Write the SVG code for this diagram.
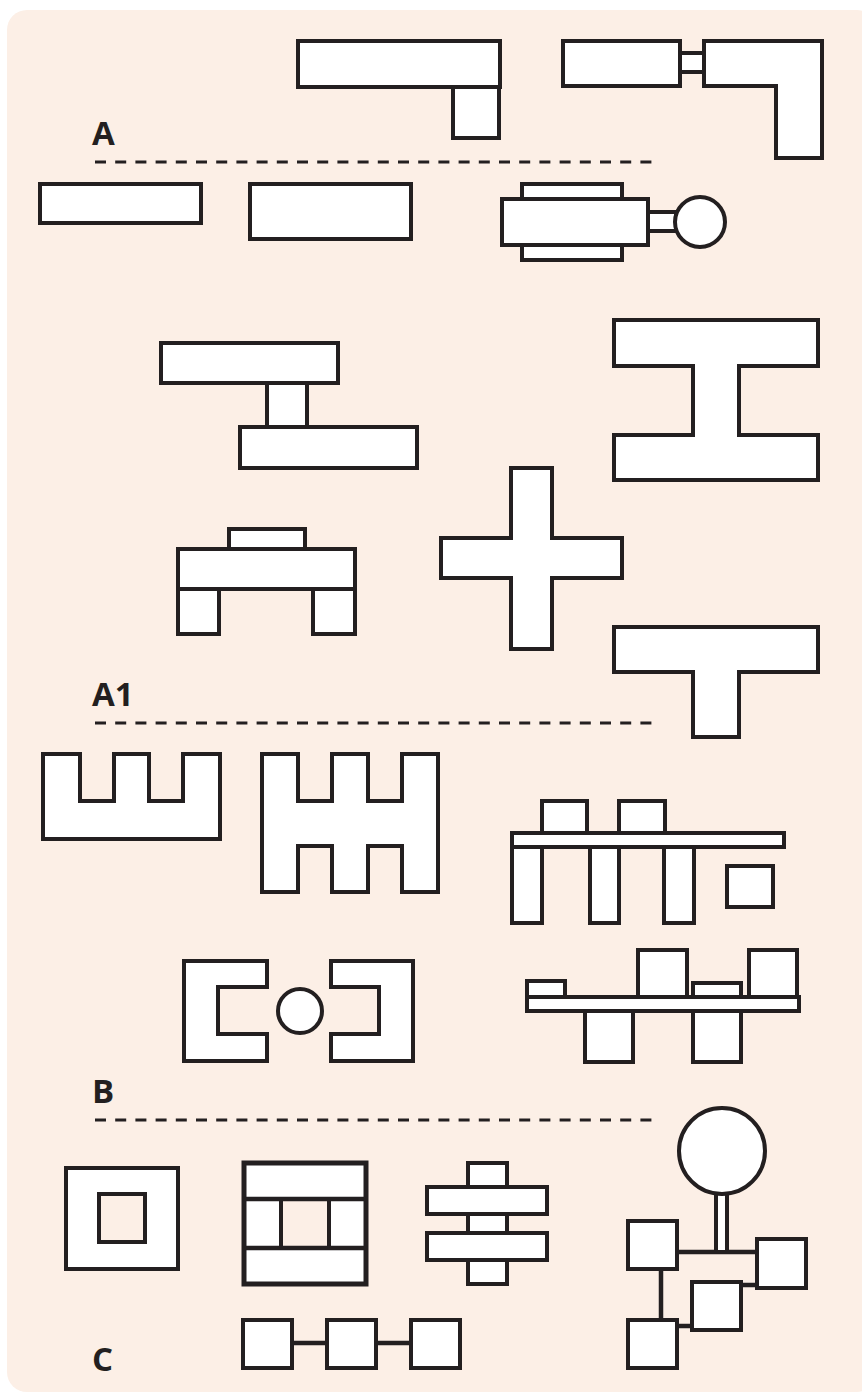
<svg xmlns="http://www.w3.org/2000/svg" width="862" height="1393" viewBox="0 0 862 1393">
<style>
.s{fill:#fff;stroke:#231f20;stroke-width:4;stroke-linejoin:miter}
.h{fill:#fcefe6;stroke:#231f20;stroke-width:4}
.ln{fill:none;stroke:#231f20;stroke-width:4.5}
.d{fill:none;stroke:#231f20;stroke-width:3.2;stroke-dasharray:11 9.2}
.t{font-family:"Open Sans","Liberation Sans",sans-serif;font-weight:bold;font-size:33px;fill:#231f20}
</style>
<rect x="7" y="10" width="870" height="1382" rx="20" fill="#fcefe6"/>
<g id="labels">
<text class="t" x="92" y="145">A</text>
<text class="t" x="92" y="706">A1</text>
<text class="t" x="92" y="1103">B</text>
<text class="t" x="92" y="1371">C</text>
</g>
<g id="dividers">
<line class="d" x1="95" y1="162" x2="655" y2="162"/>
<line class="d" x1="95" y1="723" x2="655" y2="723"/>
<line class="d" x1="95" y1="1120" x2="655" y2="1120"/>
</g>
<!-- Section A -->
<g id="a-l1">
<rect class="s" x="453" y="87" width="46" height="51"/>
<rect class="s" x="298" y="41" width="202" height="46"/>
</g>
<g id="a-l2">
<rect class="s" x="563" y="41" width="117" height="45"/>
<rect class="s" x="680" y="53" width="24" height="19"/>
<polygon class="s" points="704,41 822,41 822,158 776,158 776,86 704,86"/>
</g>
<g id="a-rect1"><rect class="s" x="40" y="184" width="161" height="39"/></g>
<g id="a-rect2"><rect class="s" x="250" y="184" width="161" height="55"/></g>
<g id="a-motor">
<rect class="s" x="522" y="184" width="100" height="15"/>
<rect class="s" x="522" y="245" width="100" height="15"/>
<rect class="s" x="502" y="199" width="146" height="46"/>
<rect class="s" x="648" y="212" width="28" height="19"/>
<circle class="s" cx="700" cy="222" r="25"/>
</g>
<!-- Section A1 -->
<g id="a1-z">
<rect class="s" x="267" y="383" width="40" height="44"/>
<rect class="s" x="161" y="343" width="177" height="40"/>
<rect class="s" x="240" y="427" width="177" height="41"/>
</g>
<g id="a1-table">
<rect class="s" x="229" y="529" width="76" height="20"/>
<rect class="s" x="178" y="589" width="41" height="45"/>
<rect class="s" x="313" y="589" width="42" height="45"/>
<rect class="s" x="178" y="549" width="177" height="40"/>
</g>
<g id="a1-ibeam">
<polygon class="s" points="614,320 818,320 818,366 739,366 739,435 818,435 818,480 614,480 614,435 693,435 693,366 614,366"/>
</g>
<g id="a1-cross">
<polygon class="s" points="511,468 552,468 552,538 622,538 622,578 552,578 552,649 511,649 511,578 441,578 441,538 511,538"/>
</g>
<g id="a1-tee">
<polygon class="s" points="614,627 818,627 818,672 739,672 739,737 693,737 693,672 614,672"/>
</g>
<!-- Section B -->
<g id="b-comb1">
<polygon class="s" points="43,754 80,754 80,801 114,801 114,754 149,754 149,801 183,801 183,754 220,754 220,839 43,839"/>
</g>
<g id="b-comb2">
<polygon class="s" points="262,754 298,754 298,801 332,801 332,754 368,754 368,801 402,801 402,754 438,754 438,892 402,892 402,846 368,846 368,892 332,892 332,846 298,846 298,892 262,892"/>
</g>
<g id="b-rack1">
<rect class="s" x="542" y="801" width="45" height="32"/>
<rect class="s" x="619" y="801" width="46" height="32"/>
<rect class="s" x="512" y="847" width="30" height="76"/>
<rect class="s" x="590" y="847" width="29" height="76"/>
<rect class="s" x="664" y="847" width="30" height="76"/>
<rect class="s" x="512" y="833" width="272" height="14"/>
</g>
<g id="b-square"><rect class="s" x="727" y="866" width="46" height="41"/></g>
<g id="b-brackets">
<polygon class="s" points="184,961 267,961 267,987 218,987 218,1034 267,1034 267,1061 184,1061"/>
<polygon class="s" points="331,961 413,961 413,1061 331,1061 331,1034 379,1034 379,987 331,987"/>
<circle class="s" cx="300" cy="1011" r="22"/>
</g>
<g id="b-rack2">
<rect class="s" x="527" y="981" width="38" height="16"/>
<rect class="s" x="638" y="950" width="49" height="47"/>
<rect class="s" x="693" y="983" width="48" height="14"/>
<rect class="s" x="749" y="950" width="48" height="47"/>
<rect class="s" x="585" y="1011" width="48" height="51"/>
<rect class="s" x="693" y="1011" width="48" height="51"/>
<rect class="s" x="527" y="997" width="272" height="14"/>
</g>
<!-- Section C -->
<g id="c-frame">
<rect class="s" x="66" y="1168" width="112" height="101"/>
<rect class="h" x="99" y="1194" width="46" height="48"/>
</g>
<g id="c-window">
<rect class="s" x="244" y="1163" width="122" height="121" style="stroke-width:5"/>
<rect class="h" x="281" y="1199" width="48" height="49"/>
<line class="ln" x1="244" y1="1199" x2="366" y2="1199"/>
<line class="ln" x1="244" y1="1248" x2="366" y2="1248"/>
</g>
<g id="c-shaft">
<rect class="s" x="468" y="1163" width="39" height="121"/>
<rect class="s" x="427" y="1187" width="120" height="27"/>
<rect class="s" x="427" y="1233" width="120" height="27"/>
</g>
<g id="connectors">
<line class="ln" x1="292" y1="1343" x2="327" y2="1343"/>
<line class="ln" x1="376" y1="1343" x2="411" y2="1343"/>
<line class="ln" x1="677" y1="1252" x2="757" y2="1252"/>
<line class="ln" x1="661" y1="1269" x2="661" y2="1320"/>
<line class="ln" x1="677" y1="1326" x2="692" y2="1326"/>
<line class="ln" x1="741" y1="1285" x2="757" y2="1285"/>
</g>
<g id="c-chain">
<rect class="s" x="243" y="1320" width="49" height="48"/>
<rect class="s" x="327" y="1320" width="49" height="48"/>
<rect class="s" x="411" y="1320" width="49" height="48"/>
</g>
<g id="c-network">
<rect class="s" x="716" y="1192" width="11" height="60"/>
<circle class="s" cx="722" cy="1151" r="43"/>
<rect class="s" x="628" y="1221" width="49" height="48"/>
<rect class="s" x="757" y="1239" width="49" height="49"/>
<rect class="s" x="692" y="1282" width="49" height="48"/>
<rect class="s" x="628" y="1320" width="49" height="48"/>
</g>
</svg>
